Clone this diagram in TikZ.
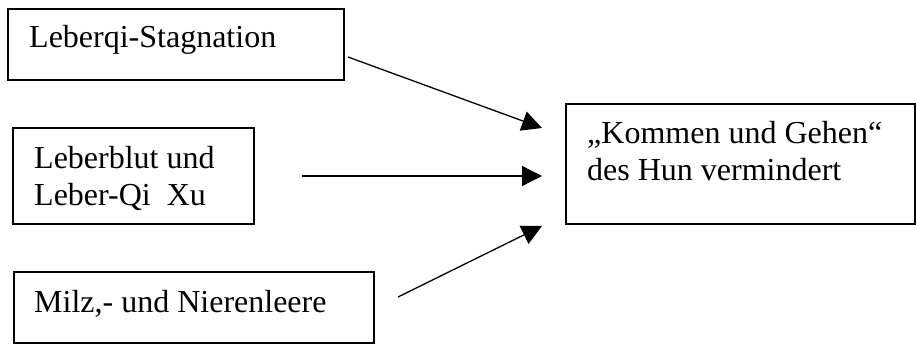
\documentclass[tikz,border=0pt]{standalone}
\usepackage{fontspec}
\setmainfont{Liberation Serif}
\usetikzlibrary{arrows.meta}
\begin{document}
\begin{tikzpicture}[x=1pt,y=-1pt,
  box/.style={draw, line width=1.3pt, rectangle, inner sep=0pt},
  txt/.style={anchor=base west, inner sep=0pt, font=\fontsize{32}{37}\selectfont},
  arr/.style={line width=1.3pt, -{Triangle[length=20pt,width=20pt]}}]
  \useasboundingbox (0,0) rectangle (916,345);

  % source boxes
  \node[box, minimum width=336pt, minimum height=71pt] (b1) at (176,44.5) {};
  \node[box, minimum width=241pt, minimum height=96pt] (b2) at (133.5,176) {};
  \node[box, minimum width=360pt, minimum height=71pt] (b3) at (194,307.5) {};
  % target box
  \node[box, minimum width=349pt, minimum height=120pt] (b4) at (740.5,164) {};

  % box texts
  \node[txt] (t1) at (29,48) {Leberqi-Stagnation};
  \node[txt] (t2a) at (34,168) {Leberblut und};
  \node[txt] (t2b) at (34,205) {Leber-Qi\ \ Xu};
  \node[txt] (t3) at (34,312) {Milz,- und Nierenleere};
  \node[txt] (t4a) at (587,143) {„Kommen und Gehen“};
  \node[txt] (t4b) at (587,180) {des Hun vermindert};

  % arrow ends
  \coordinate (s1) at (348,57);
  \coordinate (e1) at (542,128);
  \coordinate (s2) at (302,176);
  \coordinate (e2) at (542,176);
  \coordinate (s3) at (398,297);
  \coordinate (e3) at (542,226);

  \draw[arr] (s1) -- (e1);
  \draw[arr] (s2) -- (e2);
  \draw[arr] (s3) -- (e3);
\end{tikzpicture}
\end{document}
